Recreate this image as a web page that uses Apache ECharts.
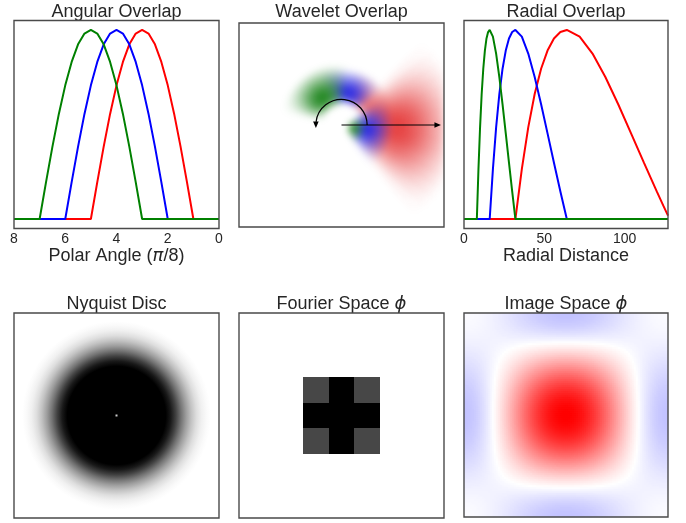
<!DOCTYPE html>
<html>
<head>
<meta charset="utf-8">
<script src="https://cdn.jsdelivr.net/npm/echarts@6/dist/echarts.min.js"></script>
<style>
html, body { margin: 0; padding: 0; background: #fff; }
#chart { width: 686px; height: 523px; }
</style>
</head>
<body>
<div id="chart"></div>
<script>
// ---- Angular windows (polar angle in units of pi/8) ----
const angularRed = [[8,0],[5,0],[4.75,0.195],[4.5,0.383],[4.25,0.556],[4,0.707],[3.75,0.831],[3.5,0.924],[3.25,0.981],[3,1],[2.75,0.981],[2.5,0.924],[2.25,0.831],[2,0.707],[1.75,0.556],[1.5,0.383],[1.25,0.195],[1,0],[0,0]];
const angularBlue = [[8,0],[6,0],[5.75,0.195],[5.5,0.383],[5.25,0.556],[5,0.707],[4.75,0.831],[4.5,0.924],[4.25,0.981],[4,1],[3.75,0.981],[3.5,0.924],[3.25,0.831],[3,0.707],[2.75,0.556],[2.5,0.383],[2.25,0.195],[2,0],[0,0]];
const angularGreen = [[8,0],[7,0],[6.75,0.195],[6.5,0.383],[6.25,0.556],[6,0.707],[5.75,0.831],[5.5,0.924],[5.25,0.981],[5,1],[4.75,0.981],[4.5,0.924],[4.25,0.831],[4,0.707],[3.75,0.556],[3.5,0.383],[3.25,0.195],[3,0],[0,0]];
const angleTicks = [0, 2, 4, 6, 8];

// ---- Radial windows (radial distance in pixels) ----
const radialRed = [[0,0],[32,0],[36,0.264],[40,0.485],[44,0.661],[48,0.795],[52,0.891],[56,0.955],[60,0.989],[64,1],[72,0.965],[80,0.875],[88,0.751],[96,0.607],[104,0.453],[112,0.298],[120,0.146],[124,0.072],[127,0.018]];
const radialBlue = [[0,0],[16,0],[18,0.264],[20,0.485],[22,0.661],[24,0.795],[26,0.891],[28,0.955],[30,0.989],[32,1],[36,0.965],[40,0.875],[44,0.751],[48,0.607],[52,0.453],[56,0.298],[60,0.146],[64,0],[127,0]];
const radialGreen = [[0,0],[8,0],[9,0.264],[10,0.485],[11,0.661],[12,0.795],[13,0.891],[14,0.955],[15,0.989],[16,1],[18,0.965],[20,0.875],[22,0.751],[24,0.607],[26,0.453],[28,0.298],[30,0.146],[32,0],[127,0]];
const radialTicks = [0, 50, 100];

// ---- Wavelet bands in the Fourier plane (angles in degrees, radii as fraction of half-width) ----
const bandAngle     = [-3,   40,   -10,  78,   -15,  125];
const bandHalfWidth = [48,   38,   45,   38,   40,   42];
const bandInner     = [0.24, 0.20, 0.12, 0.20, 0.06, 0.18];
const bandOuter     = [1.15, 0.55, 0.50, 0.55, 0.24, 0.60];
const bandOpacity   = [0.85, 0.55, 0.95, 0.95, 0.95, 0.95];
const bandRGB       = [[225,30,30],[225,30,30],[25,25,225],[25,25,225],[15,125,15],[15,125,15]];
// polar-angle arrow: origin, tip, arc radius
const arrowStart = [0, 0];
const arrowEnd = [0.97, 0];
const arcRadius = 0.25;

// ---- Nyquist disc: radial profile (radius as fraction of half-width, darkness 0..1) ----
const nyquistProfile = [[0,1],[0.48,1],[0.53,0.90],[0.58,0.74],[0.63,0.55],[0.68,0.38],[0.73,0.24],[0.78,0.13],[0.83,0.06],[0.88,0.02],[0.92,0]];
const nyquistCentre = [[0, 0]];

// ---- Fourier-space phi: 3x3 coefficients around the origin ----
const fourierPhi = [
  [0.72, 1, 0.72],
  [1,    1, 1   ],
  [0.72, 1, 0.72]
];

const FONT = "'Liberation Sans', Arial, sans-serif";
const TXT = '#262626';
const FRAME = '#4a4a4a';

const boxes = [
  { left: 14,  top: 20.5, width: 205, height: 208 },
  { left: 239, top: 23,   width: 205, height: 204 },
  { left: 464, top: 20.5, width: 204, height: 208 },
  { left: 14,  top: 313,  width: 205, height: 205 },
  { left: 239, top: 313,  width: 205, height: 205 },
  { left: 464, top: 313,  width: 204, height: 204 }
];

function rgba(c, a) { return 'rgba(' + c[0] + ',' + c[1] + ',' + c[2] + ',' + a.toFixed(3) + ')'; }

// angular lobe shape (green window from 7 down to 3) and radial lobe shape (green window 8..32)
const angLobe = angularGreen.slice(1, 18).map(p => p[1]);
const radLobe = radialGreen.slice(1, 18).map(p => [(p[0] - 8) / 24, p[1]]);

// inverse transform of the Fourier coefficients over one period
const IMG_N = 102;
const imageCells = [];
for (let iy = 0; iy < IMG_N; iy++) {
  for (let ix = 0; ix < IMG_N; ix++) {
    const x = -1 + (ix + 0.5) * 2 / IMG_N;
    const y = -1 + (iy + 0.5) * 2 / IMG_N;
    let v = 0;
    for (let j = 0; j < 3; j++) {
      for (let i = 0; i < 3; i++) {
        v += fourierPhi[j][i] * Math.cos(Math.PI * ((i - 1) * x + (j - 1) * y));
      }
    }
    imageCells.push([ix, iy, v]);
  }
}
const imageLimit = fourierPhi.flat().reduce((a, b) => a + Math.abs(b), 0);
const imageIdx = Array.from({ length: IMG_N }, (_, i) => i);

function clipOf(params) {
  const cs = params.coordSys;
  return { type: 'rect', shape: { x: cs.x, y: cs.y, width: cs.width, height: cs.height } };
}

function renderBand(params, api) {
  const k = api.value(2);
  const c = api.coord([0, 0]);
  const unit = api.size([1, 1])[0];
  const rIn = bandInner[k] * unit;
  const rOut = bandOuter[k] * unit;
  const col = bandRGB[k];
  const n = angLobe.length - 1;
  const a0 = (bandAngle[k] - bandHalfWidth[k]) * Math.PI / 180;
  const step = 2 * bandHalfWidth[k] * Math.PI / 180 / n;
  const children = [];
  for (let i = 0; i < n; i++) {
    const w = (angLobe[i] + angLobe[i + 1]) / 2 * bandOpacity[k];
    const stops = [{ offset: 0, color: rgba(col, 0) }];
    radLobe.forEach(([t, v]) => {
      stops.push({ offset: (rIn + t * (rOut - rIn)) / rOut, color: rgba(col, v * w) });
    });
    stops.push({ offset: 1, color: rgba(col, 0) });
    children.push({
      type: 'sector',
      shape: { cx: c[0], cy: c[1], r0: rIn, r: rOut,
               startAngle: -(a0 + (i + 1) * step) - 0.004, endAngle: -(a0 + i * step), clockwise: true },
      style: { fill: new echarts.graphic.RadialGradient(c[0], c[1], rOut, stops, true) }
    });
  }
  return { type: 'group', children, clipPath: clipOf(params) };
}

function renderArrows(params, api) {
  const o = api.coord(arrowStart);
  const e = api.coord(arrowEnd);
  const rad = api.size([arcRadius, 0])[0];
  const ink = '#000';
  return {
    type: 'group',
    children: [
      { type: 'line', shape: { x1: o[0], y1: o[1], x2: e[0] - 5, y2: e[1] }, style: { stroke: ink, lineWidth: 1.2 } },
      { type: 'polygon', shape: { points: [[e[0], e[1]], [e[0] - 6.5, e[1] - 2.8], [e[0] - 6.5, e[1] + 2.8]] }, style: { fill: ink } },
      { type: 'arc', shape: { cx: o[0], cy: o[1], r: rad, startAngle: -Math.PI + 0.12, endAngle: 0, clockwise: true },
        style: { stroke: ink, fill: null, lineWidth: 1.2 } },
      { type: 'polygon', shape: { points: [[o[0] - rad, o[1] + 3], [o[0] - rad - 2.8, o[1] - 3.5], [o[0] - rad + 2.8, o[1] - 3.5]] }, style: { fill: ink } }
    ]
  };
}

function renderDisc(params, api) {
  const c = api.coord([api.value(0), api.value(1)]);
  const R = api.size([1, 0])[0];
  const stops = nyquistProfile.map(([r, d]) => {
    const g = Math.round(255 * (1 - d));
    return { offset: r, color: 'rgb(' + g + ',' + g + ',' + g + ')' };
  });
  stops.push({ offset: 1, color: '#ffffff' });
  return {
    type: 'circle',
    shape: { cx: c[0], cy: c[1], r: R },
    style: { fill: new echarts.graphic.RadialGradient(c[0], c[1], R, stops, true) }
  };
}

const fourierCells = [];
fourierPhi.forEach((row, j) => row.forEach((v, i) => fourierCells.push([i - 1, 1 - j, v])));

function renderCell(params, api) {
  const p0 = api.coord([api.value(0) - 0.5, api.value(1) + 0.5]);
  const p1 = api.coord([api.value(0) + 0.5, api.value(1) - 0.5]);
  const x0 = Math.round(p0[0]), y0 = Math.round(p0[1]);
  const x1 = Math.round(p1[0]), y1 = Math.round(p1[1]);
  const g = Math.round(255 * (1 - api.value(2)));
  return {
    type: 'rect',
    shape: { x: x0, y: y0, width: x1 - x0, height: y1 - y0 },
    style: { fill: 'rgb(' + g + ',' + g + ',' + g + ')' }
  };
}

const hidden = { show: false };
const labelStyle = { fontSize: 14, color: TXT, fontFamily: FONT, margin: 4 };
const nameStyle = {
  fontSize: 18, color: TXT, fontFamily: FONT,
  rich: { i: { fontSize: 18, color: TXT, fontFamily: 'DejaVu Sans', fontStyle: 'italic' } }
};

const titles = [
  { x: 116.5, y: 12, text: 'Angular Overlap' },
  { x: 341.5, y: 12, text: 'Wavelet Overlap' },
  { x: 566, y: 12, text: 'Radial Overlap' },
  { x: 116.5, y: 304, text: 'Nyquist Disc' },
  { x: 341.5, y: 304, text: 'Fourier Space {p|ϕ}' },
  { x: 566, y: 304, text: 'Image Space {p|ϕ}' }
];

const graphic = titles.map(t => ({
  type: 'text', x: t.x, y: t.y, z: 100, zlevel: 2,
  style: {
    text: t.text, fontSize: 18, fontFamily: FONT, fill: TXT, align: 'center', verticalAlign: 'middle',
    rich: { p: { fontSize: 18, fontFamily: 'DejaVu Sans', fontStyle: 'italic', fill: TXT } }
  }
})).concat(boxes.map(b => ({
  type: 'rect', z: 100, zlevel: 2, silent: true,
  shape: { x: b.left, y: b.top, width: b.width, height: b.height },
  style: { fill: null, stroke: FRAME, lineWidth: 1.4 }
})));

const lineSeries = (xi, data, color, z) => ({
  type: 'line', xAxisIndex: xi, yAxisIndex: xi, data, showSymbol: false, z,
  lineStyle: { color, width: 2 }, itemStyle: { color }, emphasis: { disabled: true }
});

const option = {
  animation: false,
  backgroundColor: '#ffffff',
  grid: boxes.map(b => Object.assign({ show: false, containLabel: false }, b)),
  xAxis: [
    { gridIndex: 0, type: 'value', min: angleTicks[0], max: angleTicks[angleTicks.length - 1], interval: 2, inverse: true,
      axisLine: hidden, axisTick: hidden, splitLine: hidden, axisLabel: labelStyle,
      name: 'Polar Angle ({i|π}/8)', nameLocation: 'middle', nameGap: 18, nameTextStyle: nameStyle },
    { gridIndex: 1, type: 'value', min: -1, max: 1, show: false },
    { gridIndex: 2, type: 'value', min: radialTicks[0], max: 127, interval: 50,
      axisLine: hidden, axisTick: hidden, splitLine: hidden, axisLabel: Object.assign({ showMaxLabel: false }, labelStyle),
      name: 'Radial Distance', nameLocation: 'middle', nameGap: 18, nameTextStyle: nameStyle },
    { gridIndex: 3, type: 'value', min: -1, max: 1, show: false },
    { gridIndex: 4, type: 'value', min: -4, max: 4, show: false },
    { gridIndex: 5, type: 'category', data: imageIdx, show: false }
  ],
  yAxis: [
    { gridIndex: 0, type: 'value', min: -0.05, max: 1.05, show: false },
    { gridIndex: 1, type: 'value', min: -1, max: 1, show: false },
    { gridIndex: 2, type: 'value', min: -0.05, max: 1.05, show: false },
    { gridIndex: 3, type: 'value', min: -1, max: 1, show: false },
    { gridIndex: 4, type: 'value', min: -4, max: 4, show: false },
    { gridIndex: 5, type: 'category', data: imageIdx, show: false }
  ],
  visualMap: {
    type: 'continuous', show: false, seriesIndex: 10, dimension: 2,
    min: -imageLimit, max: imageLimit,
    inRange: { color: ['#0000ff', '#ffffff', '#ff0000'] }
  },
  series: [
    lineSeries(0, angularRed, '#ff0000', 2),
    lineSeries(0, angularBlue, '#0000ff', 3),
    lineSeries(0, angularGreen, '#008000', 4),
    { type: 'custom', xAxisIndex: 1, yAxisIndex: 1, renderItem: renderBand, zlevel: 1,
      data: bandAngle.map((_, k) => [0, 0, k]), encode: { x: 0, y: 1 }, silent: true },
    { type: 'custom', xAxisIndex: 1, yAxisIndex: 1, renderItem: renderArrows, data: [[0, 0]], silent: true, zlevel: 2 },
    lineSeries(2, radialRed, '#ff0000', 2),
    lineSeries(2, radialBlue, '#0000ff', 3),
    lineSeries(2, radialGreen, '#008000', 4),
    { type: 'custom', xAxisIndex: 3, yAxisIndex: 3, renderItem: renderDisc, data: [[0, 0]], silent: true },
    { type: 'custom', xAxisIndex: 4, yAxisIndex: 4, renderItem: renderCell,
      data: fourierCells.slice().sort((a, b) => a[2] - b[2]), silent: true },
    { type: 'heatmap', xAxisIndex: 5, yAxisIndex: 5, data: imageCells, progressive: 0, silent: true,
      emphasis: { disabled: true } },
    { type: 'scatter', xAxisIndex: 3, yAxisIndex: 3, data: nyquistCentre, symbol: 'rect', symbolSize: 2,
      itemStyle: { color: '#ffffff' }, silent: true, z: 6 }
  ],
  graphic: graphic
};

const chart = echarts.init(document.getElementById('chart'), null, { renderer: 'canvas' });
chart.setOption(option);

// soften the wavelet layer and keep it inside its frame
function softenWavelets() {
  const b = boxes[1];
  const layer = document.querySelector('#chart canvas[data-zr-dom-id="zr_1"]');
  if (layer) {
    layer.style.filter = 'blur(3px)';
    layer.style.clipPath = 'inset(' + b.top + 'px ' + (686 - b.left - b.width) + 'px ' +
      (523 - b.top - b.height) + 'px ' + b.left + 'px)';
  }
}
softenWavelets();
chart.on('finished', softenWavelets);
</script>
</body>
</html>
